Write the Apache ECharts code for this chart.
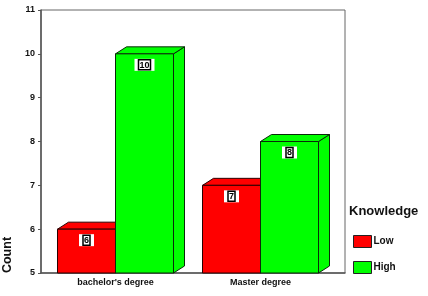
<!DOCTYPE html>
<html><head><meta charset="utf-8">
<script src="https://cdn.jsdelivr.net/npm/echarts@6/dist/echarts.min.js"></script>
<style>html,body{margin:0;padding:0;background:#fff}#c{width:428px;height:296px}</style>
</head><body><div id="c"></div>
<script>
var categories = ["bachelor's degree", "Master degree"];
var lowValues = [6, 7];
var highValues = [10, 8];
var seriesNames = ['Low', 'High'];
var yTicks = [5, 6, 7, 8, 9, 10, 11];

var FONT = '"Liberation Sans", Arial, sans-serif';
var DX = 11, DY = -7;

function make3D(side, fill, stroke) {
  return function (params, api) {
    var idx = api.value(0), val = api.value(1);
    var top = api.coord([idx, val]);
    var base = api.coord([idx, yTicks[0]]);
    var band = api.size([1, 0])[0];
    var w = band * 0.4;
    var x0 = side === 0 ? top[0] - w : top[0];
    var x1 = x0 + w;
    var yT = top[1], yB = base[1];
    var ls = { fill: fill, stroke: stroke, lineWidth: 1 };
    return {
      type: 'group',
      children: [
        { type: 'polygon', shape: { points: [[x1, yT], [x1 + DX, yT + DY], [x1 + DX, yB + DY], [x1, yB]] }, style: ls },
        { type: 'polygon', shape: { points: [[x0, yT], [x0 + DX, yT + DY], [x1 + DX, yT + DY], [x1, yT]] }, style: ls },
        { type: 'rect', shape: { x: x0, y: yT, width: w, height: yB - yT }, style: ls },
        { type: 'text', x: (x0 + x1) / 2, y: yT + 11,
          style: { text: '{b|' + val + '}', align: 'center', verticalAlign: 'middle',
            backgroundColor: '#fff', padding: [1, 4],
            rich: { b: { fontFamily: FONT, fontSize: 9, fontWeight: 'bold', fill: '#000',
              borderColor: '#000', borderWidth: 1.5, padding: [1, 1, 0, 1] } } } }
      ]
    };
  };
}

var chart = echarts.init(document.getElementById('c'), null, { renderer: 'canvas' });
chart.setOption({
  animation: false,
  backgroundColor: '#fff',
  grid: [
    { left: 43, width: 290, top: 10, bottom: 23 },
    { left: 41, right: 83, top: 10, bottom: 23, show: true, borderColor: '#666', borderWidth: 1 }
  ],
  xAxis: [
    { type: 'category', gridIndex: 0, data: categories,
      axisLine: { show: false }, axisTick: { show: false },
      axisLabel: { fontFamily: FONT, fontSize: 9, fontWeight: 'bold', color: '#111', margin: 5 } },
    { type: 'value', gridIndex: 1, min: 0, max: 1, axisLabel: { show: false }, axisTick: { show: false },
      splitLine: { show: false }, axisLine: { show: true, lineStyle: { color: '#555', width: 1.5 } } }
  ],
  yAxis: [
    { type: 'value', gridIndex: 0, min: 5, max: 11, interval: 1, show: false },
    { type: 'value', gridIndex: 1, min: 5, max: 11, interval: 1,
      axisLine: { show: true, lineStyle: { color: '#555', width: 1.5 } },
      axisTick: { show: true, length: 3, lineStyle: { color: '#555' } },
      splitLine: { show: false },
      axisLabel: { fontFamily: FONT, fontSize: 9, fontWeight: 'bold', color: '#111', margin: 6 } }
  ],
  title: { text: 'Knowledge', left: 349, top: 205, padding: 0,
    textStyle: { fontFamily: FONT, fontSize: 13, fontWeight: 'bold', color: '#111' } },
  legend: {
    orient: 'vertical', left: 353, top: 235, padding: 0, itemWidth: 18, itemHeight: 12, itemGap: 13,
    textStyle: { fontFamily: FONT, fontSize: 10, fontWeight: 'bold', color: '#111', padding: [0, 0, 0, -3] },
    data: [
      { name: seriesNames[0], icon: 'rect', itemStyle: { color: '#ff0000', borderColor: '#222', borderWidth: 1 } },
      { name: seriesNames[1], icon: 'rect', itemStyle: { color: '#00ff00', borderColor: '#222', borderWidth: 1 } }
    ]
  },
  graphic: [
    { type: 'text', x: 8, y: 255, rotation: Math.PI / 2,
      style: { text: 'Count', fontFamily: FONT, fontSize: 12.5, fontWeight: 'bold', fill: '#111',
        align: 'center', verticalAlign: 'middle' } }
  ],
  series: [
    { name: seriesNames[0], type: 'custom', xAxisIndex: 0, yAxisIndex: 0, clip: false,
      itemStyle: { color: '#ff0000' },
      renderItem: make3D(0, '#ff0000', '#2a0000'),
      data: lowValues.map(function (v, i) { return [i, v]; }) },
    { name: seriesNames[1], type: 'custom', xAxisIndex: 0, yAxisIndex: 0, clip: false,
      itemStyle: { color: '#00ff00' },
      renderItem: make3D(1, '#00ff00', '#0a2a0a'),
      data: highValues.map(function (v, i) { return [i, v]; }) }
  ]
});
</script></body></html>
